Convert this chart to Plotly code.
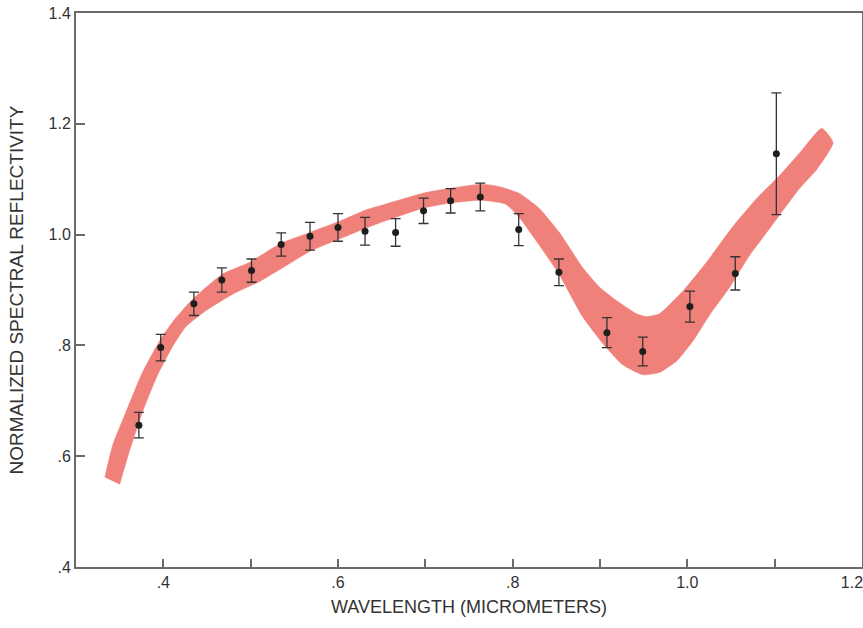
import plotly.graph_objects as go

# Measured points
wavelength = [0.372, 0.397, 0.435, 0.467, 0.501, 0.535, 0.568, 0.600, 0.631, 0.666,
              0.698, 0.729, 0.763, 0.807, 0.853, 0.908, 0.949, 1.003, 1.055, 1.102]
reflectivity = [0.656, 0.796, 0.875, 0.918, 0.935, 0.982, 0.997, 1.013, 1.006, 1.004,
                1.043, 1.061, 1.068, 1.009, 0.932, 0.823, 0.789, 0.870, 0.930, 1.146]
error = [0.023, 0.024, 0.021, 0.022, 0.021, 0.021, 0.025, 0.025, 0.025, 0.025,
         0.023, 0.022, 0.025, 0.029, 0.024, 0.027, 0.026, 0.028, 0.030, 0.110]

# Model band: upper edge and lower edge
band_upper_x = [0.333, 0.342, 0.357, 0.376, 0.396, 0.411, 0.434, 0.468, 0.499, 0.534,
                0.568, 0.600, 0.631, 0.646, 0.698, 0.730, 0.764, 0.784, 0.807, 0.830,
                0.853, 0.880, 0.899, 0.919, 0.942, 0.953, 0.968, 0.995, 1.022, 1.052,
                1.080, 1.106, 1.129, 1.154]
band_upper_y = [0.562, 0.620, 0.679, 0.751, 0.809, 0.843, 0.884, 0.929, 0.950, 0.984,
                1.004, 1.023, 1.044, 1.051, 1.075, 1.084, 1.091, 1.087, 1.075, 1.048,
                1.005, 0.941, 0.906, 0.881, 0.857, 0.852, 0.857, 0.898, 0.950, 1.014,
                1.066, 1.107, 1.148, 1.192]
band_lower_x = [0.350, 0.361, 0.376, 0.393, 0.411, 0.426, 0.449, 0.480, 0.511, 0.549,
                0.568, 0.600, 0.631, 0.646, 0.698, 0.729, 0.764, 0.792, 0.807, 0.830,
                0.853, 0.880, 0.903, 0.926, 0.949, 0.968, 0.988, 1.007, 1.026, 1.049,
                1.072, 1.083, 1.106, 1.129, 1.149, 1.167]
band_lower_y = [0.549, 0.608, 0.679, 0.745, 0.799, 0.834, 0.863, 0.893, 0.916, 0.952,
                0.970, 0.991, 1.011, 1.020, 1.048, 1.057, 1.062, 1.055, 1.032, 0.982,
                0.929, 0.852, 0.804, 0.765, 0.747, 0.751, 0.772, 0.809, 0.856, 0.906,
                0.964, 0.987, 1.036, 1.084, 1.119, 1.166]

x_tickvals = [0.4, 0.6, 0.8, 1.0, 1.2]
x_ticktext = [".4", ".6", ".8", "1.0", ""]
x_edge_tickvals = [1.2]
x_edge_ticktext = ["1.2"]
y_tickvals = [0.4, 0.6, 0.8, 1.0, 1.2, 1.4]
y_ticktext = [".4", ".6", ".8", "1.0", "1.2", "1.4"]

FONT = "Liberation Sans, Arial, sans-serif"
AXIS_COLOR = "#6a6a6a"
TEXT_COLOR = "#333333"
X_RANGE = [0.3, 1.2001]

fig = go.Figure()

fig.add_trace(go.Scatter(
    x=band_upper_x + band_lower_x[::-1],
    y=band_upper_y + band_lower_y[::-1],
    mode="lines",
    fill="toself",
    fillcolor="rgb(240,128,122)",
    line=dict(color="rgb(240,128,122)", width=0.5, shape="spline", smoothing=0.5),
    hoverinfo="skip",
    showlegend=False,
))

fig.add_trace(go.Scatter(
    x=wavelength,
    y=reflectivity,
    mode="markers",
    marker=dict(color="#1e1e1e", size=7),
    error_y=dict(type="data", array=error, visible=True,
                 color="#333333", thickness=1.3, width=5),
    showlegend=False,
))

# empty trace that carries the overlay axis used for the edge label
fig.add_trace(go.Scatter(x=[], y=[], xaxis="x2", yaxis="y", showlegend=False,
                         hoverinfo="skip"))

fig.update_layout(
    width=863,
    height=628,
    margin=dict(l=76, r=1, t=13, b=61, autoexpand=False),
    paper_bgcolor="white",
    plot_bgcolor="white",
    font=dict(family=FONT, size=16, color=TEXT_COLOR),
    showlegend=False,
    xaxis2=dict(
        overlaying="x",
        anchor="y",
        side="bottom",
        range=X_RANGE,
        automargin=False,
        tickvals=x_edge_tickvals,
        ticktext=x_edge_ticktext,
        ticks="",
        ticklabelshift=-10,
        ticklabelstandoff=4,
        ticklabeloverflow="allow",
        showline=False,
        showgrid=False,
        zeroline=False,
        tickfont=dict(family=FONT, size=16, color=TEXT_COLOR),
    ),
)

fig.layout.xaxis.update(
    range=X_RANGE,
    automargin=False,
    tickvals=x_tickvals,
    ticktext=x_ticktext,
    ticklabeloverflow="allow",
    ticks="inside",
    ticklen=8,
    tickwidth=1.5,
    tickcolor=AXIS_COLOR,
    minor=dict(dtick=0.1, tick0=0.3, ticks="inside", ticklen=8, tickwidth=1.5,
               tickcolor=AXIS_COLOR, showgrid=False),
    showline=True,
    linecolor=AXIS_COLOR,
    linewidth=2,
    mirror=True,
    showgrid=False,
    zeroline=False,
    tickfont=dict(size=16, color=TEXT_COLOR),
    title=dict(text="WAVELENGTH (MICROMETERS)", font=dict(size=18, color=TEXT_COLOR),
               standoff=10),
)

fig.update_yaxes(
    range=[0.4, 1.4],
    automargin=False,
    tickvals=y_tickvals,
    ticktext=y_ticktext,
    ticklabeloverflow="allow",
    ticks="inside",
    ticklen=9,
    tickwidth=1.5,
    tickcolor=AXIS_COLOR,
    showline=True,
    linecolor=AXIS_COLOR,
    linewidth=2,
    mirror=True,
    showgrid=False,
    zeroline=False,
    tickfont=dict(size=16, color=TEXT_COLOR),
    title=dict(text="NORMALIZED SPECTRAL REFLECTIVITY", font=dict(size=19, color=TEXT_COLOR),
               standoff=20),
)

fig.write_html(
    "out.html",
    config={"displayModeBar": False},
    post_script="document.body.style.margin='0';document.body.style.overflow='hidden';",
)
